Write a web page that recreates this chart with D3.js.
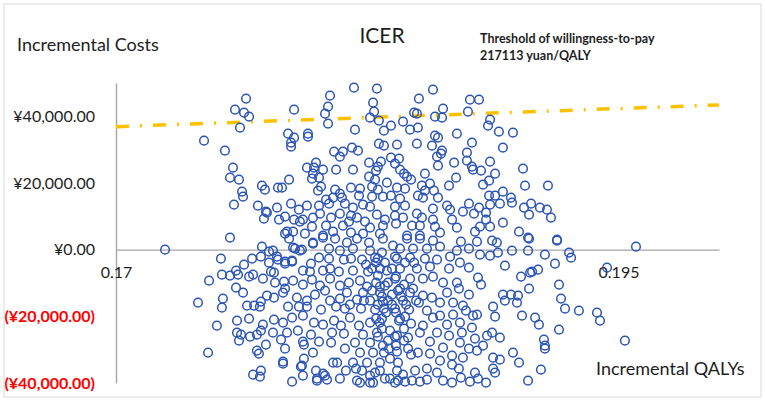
<!DOCTYPE html>
<html>
<head>
<meta charset="utf-8">
<script src="https://cdn.jsdelivr.net/npm/d3@7"></script>
<style>
  body { margin: 0; background: #fff; }
  text { font-family: Lato, "Open Sans", sans-serif; }
</style>
</head>
<body>
<div id="chart"></div>
<script>
const width = 765,
  height = 401,
  margin = { top: 83, bottom: 18, left: 116, right: 46 },
  radius = 4.3;

// incremental QALYs of each simulation
const qaly = [
  0.17647,0.17592,0.17637,0.17662,0.17617,0.17438,0.17542,0.17582,0.17567,0.17612,
  0.17627,0.17632,0.17726,0.17741,0.17587,0.17706,0.17746,0.17736,0.17567,
  0.18184,0.18298,0.18065,0.17886,0.18055,0.1804,0.18279,0.18284,0.18264,0.18308,
  0.18055,0.18189,0.18333,0.17856,0.17955,0.17955,0.17886,0.17871,0.17871,0.18308,
  0.18333,0.18174,0.18204,0.18085,0.18129,0.18114,0.18259,0.18318,0.17995,0.1795,
  0.17985,0.1803,0.18095,0.18179,0.18303,0.18294,0.1798,0.1801,0.17975,0.18259,
  0.17861,0.18289,0.18348,0.17806,0.17826,0.1802,0.18005,0.1809,0.18169,0.18214,
  0.18274,0.18303,0.18114,0.18124,0.18209,0.18274,0.18328,0.1808,0.18045,0.17871,
  0.17801,0.1791,0.1795,0.1801,0.1806,0.18139,0.18179,0.18229,0.18264,0.17841,
  0.17811,0.17886,0.1793,0.1798,0.18015,0.1807,0.18114,0.18169,0.18199,0.18298,
  0.18338,0.17975,0.18045,0.18129,0.18159,0.18239,0.18264,0.18328,0.17851,0.17881,
  0.1803,0.1808,0.18169,0.18229,0.18313,
  0.18577,0.18507,0.18761,0.18806,0.18627,0.18483,0.18497,0.18751,0.18587,0.18622,
  0.18428,0.18861,0.18851,0.18368,0.18463,0.18502,0.18905,0.18696,0.18587,0.18602,
  0.18398,0.18497,0.18572,0.18771,0.18925,0.18622,0.18617,0.18597,0.18746,0.18368,
  0.18408,0.18388,0.18682,0.18746,0.18602,0.18861,0.18771,0.18776,0.18413,0.18433,
  0.18537,0.18816,0.18886,0.18448,0.18468,0.18692,0.18856,0.18562,0.18657,0.18826,
  0.18398,0.18438,0.18522,0.18537,0.18582,0.18925,0.18856,0.18886,0.18368,0.18413,
  0.18502,0.18527,0.18602,0.18756,0.18806,0.18861,0.1891,0.18388,0.18438,0.18577,
  0.18647,0.18662,0.18726,0.18781,0.18841,0.18497,0.18388,0.18428,0.18522,0.18577,
  0.18672,0.18841,0.18925,0.18393,0.18473,0.18512,0.18587,0.18696,0.18811,0.18861,
  0.18448,0.18512,0.18612,0.18786,
  0.18975,0.19025,0.19035,0.19149,0.18965,0.1897,0.1903,0.19065,0.19055,0.19109,
  0.19144,0.19164,0.19005,0.1905,0.19194,
  0.17244,0.17726,0.17522,0.17677,0.17721,0.17637,0.17463,0.17527,0.17567,0.17597,
  0.17607,0.17662,0.17682,0.17731,0.17597,0.17632,0.17408,0.17532,0.17527,0.17652,
  0.17687,0.17716,0.17721,0.17751,0.17602,0.17662,0.17502,0.17731,0.17602,0.17622,
  0.17667,0.17612,0.17701,0.17721,0.17746,0.17701,0.17711,0.17458,0.17682,0.17721,0.17716,
  0.17751,0.17915,0.1794,0.17761,0.17801,0.17841,0.17876,0.17915,0.1798,0.17881,
  0.17841,0.17761,0.17786,0.17836,0.17881,0.17831,0.17925,0.1793,0.18,0.1804,
  0.18214,0.18264,
  0.17861,0.1798,0.1803,0.1809,0.18149,0.18199,0.18259,0.18328,0.17891,0.17925,
  0.17781,0.1806,0.18114,0.18179,0.18264,0.18323,0.17806,0.17841,0.17876,0.1797,
  0.1801,0.1806,0.18134,0.18169,0.18224,0.18289,0.1793,0.17965,0.1803,0.18065,
  0.18109,0.18179,0.18254,0.18313,0.17771,0.17791,0.17841,0.1793,0.17975,
  0.18015,0.18065,0.18114,0.18159,0.18214,0.18249,0.18294,0.18338,0.17831,0.1799,
  0.1804,0.18149,0.18229,0.18313,0.17786,0.179,0.1795,0.18065,0.18114,0.18164,
  0.18199,0.18264,0.18328,0.17856,0.1791,0.1795,0.1802,0.18095,0.18139,0.18219,
  0.18289,0.17786,0.17831,0.17876,0.1793,0.17985,0.1803,0.18085,0.18119,0.18164,
  0.18209,0.18264,0.18323,0.17781,0.17851,0.17905,0.1797,0.18075,0.18134,0.18229,
  0.18298,0.17821,0.1793,0.1801,0.1807,0.18139,0.18189,0.18264,0.18328,0.17841,
  0.17935,0.1798,0.18214,0.18279,0.17831,0.17935,0.1808,0.181,0.18179,0.18249,
  0.18313,0.1792,0.17995,0.1803,0.18144,0.18194,0.18224,0.18289,0.18,0.1805,
  0.18114,0.18199,0.18279,0.18338,
  0.18448,0.18512,0.18577,0.18716,0.18796,0.18871,0.18895,0.18378,0.18413,0.18478,
  0.18547,0.18612,0.18696,0.18756,0.18811,0.18861,0.189,0.18935,0.18398,0.18463,
  0.18537,0.18597,0.18662,0.18711,0.18756,0.18657,0.18562,0.18497,0.18413,0.18801,
  0.18816,0.18696,0.18627,0.18577,0.18527,0.18463,0.18388,0.18413,0.18478,0.18572,
  0.18647,0.18706,0.18756,0.18527,0.18428,0.18507,0.18612,0.18677,0.18726,0.18796,
  0.18776,0.18925,0.18935,0.18876,0.18886,0.18388,0.18458,0.18547,0.18612,0.18677,
  0.18741,0.18577,0.18408,0.18468,0.18527,0.18647,0.18711,0.18771,0.18512,0.18597,
  0.18657,0.18721,0.18786,0.18846,0.18871,0.1891,0.18398,0.18453,0.18562,0.18711,
  0.18826,0.18627,0.18756,0.18796,0.18398,0.18468,0.18562,0.18672,0.18726,0.18502,
  0.18876,0.1891,0.18612,0.18672,0.18547,0.18488,0.18398,0.18428,0.18597,0.18706,
  0.18786,0.18876,0.18886,0.18473,0.18547,0.18627,0.18672,0.18716,0.18403,
  0.19055,0.19194,0.1897,0.1905,0.19134,0.19254,0.19264,0.19184,0.19587,0.19443,
  0.191,0.1906,0.1907,0.19015,0.19204,0.19055,0.18965,0.19,0.18995,0.19214,
  0.19234,0.19303,0.19393,0.19408,0.1902,0.19085,0.19104,0.19204,0.19129,0.19134,
  0.19134,0.19532,0.18975,0.19005,0.19114,0.1905,
  0.18338,0.18373,0.18303,0.18353,0.18403,0.18323,0.18373,0.18343,0.18413,0.18313,
  0.18363,0.18433,0.18353,0.18393,0.18333,0.18294,0.18244,0.18274,0.18234,0.18388,
  0.18438,0.18463,0.18443,0.18333,0.18294,0.18363,0.18403,0.18313,0.18264,0.18363,
  0.18438,0.18388,0.18512,0.18761,0.18801,0.18841,0.17876,
  0.18303,0.18348,0.18393,0.18433,0.18313,0.18373,0.18418,0.18353,0.18303,0.18393,
  0.18438,0.18323,0.18388,0.18433,0.18303,0.18358,0.18453,0.18274,0.18483,0.18493
];

// incremental costs (yuan), same order as qaly
const cost = [
  45300,42000,41100,39900,36600,32700,29700,24600,21600,21000,
  17400,15900,19200,18000,13500,13200,11400,9300,3600,
  48600,48300,46200,42000,42900,40800,44100,41400,39600,38700,
  37800,36000,35700,34800,34800,33900,33600,32100,30900,31800,
  31200,30600,29700,29400,29400,27900,26100,26400,26100,24600,
  24600,24000,24000,24000,24900,23700,22800,21600,21300,21900,
  21000,21000,20100,18600,18600,18900,17700,18000,18600,18300,
  18900,18000,16800,15600,16200,15900,15900,15600,15000,13800,
  12600,12000,13200,13200,13800,13800,12600,13500,12900,9900,
  9000,9000,9000,9600,10800,9600,10800,10200,9600,10500,
  9000,6900,7200,7200,8400,8400,6600,7200,5400,5400,
  4200,5400,5100,4800,4800,
  48000,45300,45000,45000,42300,41100,40800,41400,39900,39600,
  38400,39000,37200,37200,36000,36600,35400,34800,34200,33600,
  31500,31800,31200,32100,30600,29700,28800,27900,29100,27600,
  27300,25800,26100,26700,25200,26400,24900,24000,24000,22800,
  22800,23700,22800,21900,21000,21600,20700,19800,19200,19500,
  18600,18300,19200,17700,17700,17400,16200,16200,16200,15300,
  16200,15600,15600,13800,12600,13500,13800,12900,13200,12300,
  13200,12000,11400,10800,11100,10800,10200,9600,9600,9000,
  9000,9000,8100,7800,7200,7200,6900,6600,6900,6900,
  4200,4200,5100,5400,
  35100,24300,19200,19200,15600,14100,12600,13800,10500,12600,
  12000,9600,5400,3600,3000,
  0,900,-2700,-2700,-2100,-4500,-9300,-7500,-7800,-6300,
  -7500,-8100,-7500,-8700,-11400,-12900,-15900,-14700,-17400,-16800,
  -16800,-17100,-15600,-13800,-21300,-20700,-22800,-22500,-24900,-25500,
  -26100,-27300,-25500,-24300,-28500,-30300,-31200,-30900,-37500,-36300,-38100,
  11100,8400,4800,-600,-2100,-3600,-3600,-300,1800,600,
  4800,-3900,-6900,-9600,-9300,-34200,-34800,-37800,-39300,-37800,
  -39900,-39900,
  3300,2100,3600,3300,2100,3300,2100,3300,300,0,
  -300,300,-300,300,-300,-900,-3000,-4200,-3300,-4200,
  -2400,-2700,-3000,-2700,-3000,-2400,-6300,-6600,-6300,-5700,
  -6600,-6300,-6600,-5700,-6600,-9900,-11700,-10500,-9000,
  -10800,-8700,-10800,-9900,-9300,-11100,-9900,-10800,-12900,-13500,
  -12300,-12900,-12900,-12900,-14400,-14400,-15300,-15300,-14700,-16500,
  -15000,-15300,-15600,-17100,-17100,-17100,-18000,-17100,-17700,-17700,
  -18000,-21000,-21900,-20400,-19800,-21900,-22500,-21300,-22800,-20400,
  -22800,-21900,-20700,-24900,-24900,-24300,-25500,-24900,-25200,-25500,
  -24900,-27000,-27600,-27600,-27900,-29700,-27900,-27900,-28800,-29700,
  -28500,-30900,-30900,-30900,-33600,-32700,-33900,-33900,-33900,-33900,
  -33900,-35100,-36300,-37200,-36300,-35700,-36300,-36900,-38700,-39000,
  -38700,-39300,-39900,-38700,
  3300,3300,2700,2400,2400,2700,2100,1200,300,300,
  300,900,-300,300,-1500,-1800,-900,-4800,-2700,-2400,
  -2700,-3000,-2100,-3900,-5400,-5700,-5100,-5700,-5700,-8400,
  -10500,-9900,-9900,-8100,-8700,-8700,-8700,-11700,-11700,-14400,
  -12900,-11700,-13500,-13800,-15300,-15900,-15900,-15900,-16800,-19500,
  -19800,-13500,-15300,-17100,-20100,-17700,-18000,-18300,-19800,-19500,
  -18300,-20400,-21300,-22200,-22800,-22500,-21900,-23400,-24900,-24900,
  -25800,-24900,-26700,-25800,-24900,-26400,-25800,-26400,-27600,-27900,
  -28800,-29400,-29700,-30300,-30600,-31500,-31200,-31800,-32400,-30900,
  -32400,-33000,-33300,-34500,-35700,-36300,-36300,-37500,-36900,-35700,
  -36900,-35700,-36900,-39300,-39000,-39300,-39900,-38400,-39300,
  3300,2700,-300,-300,-1500,-900,-2400,-4200,900,-5400,
  -6000,-6900,-6600,-8100,-10500,-11700,-13500,-13800,-15900,-14700,
  -17700,-18300,-18900,-21300,-19800,-20400,-22500,-24000,-27000,-28800,
  -29700,-27300,-30900,-33900,-36000,-39300,
  -3900,-5700,-7800,-9900,-12300,-14100,-16500,-18900,-20700,-21900,
  -24300,-23700,-27300,-28800,-30900,-3900,-4500,-12300,-15300,-2100,
  -3900,-12900,-16500,-17700,-20700,-32700,-33900,-36300,-37800,-38700,
  -39600,-39900,-39600,-39600,-38700,-39900,-39600,
  -2700,-6300,-8100,-10500,-11100,-13500,-14100,-15300,-16500,-18900,
  -20100,-23700,-26100,-27300,-26100,-29700,-29700,-5700,-3900,-15300
];

const xDomain = [0.17, 0.2];
const yDomain = [-40000, 50000];
const xTicks = [0.17, 0.195];
const yTicks = [40000, 20000, 0, -20000, -40000];
const wtp = 217113; // yuan per QALY

const points = qaly.map((q, i) => ({ q: q, c: cost[i] }));

const svg = d3.select("#chart")
  .append("svg")
  .attr("width", width)
  .attr("height", height);

svg.append("rect")
  .attr("x", 4).attr("y", 4)
  .attr("width", 757).attr("height", 393)
  .attr("fill", "white")
  .attr("stroke", "#d9d9d9");

const xScale = d3.scaleLinear()
  .domain(xDomain)
  .range([margin.left, width - margin.right]);

const yScale = d3.scaleLinear()
  .domain(yDomain)
  .range([height - margin.bottom, margin.top]);

const money = d3.format(",.2f");
const yFormat = d => d < 0 ? `(¥${money(-d)})` : `¥${money(d)}`;

const yAxis = svg.append("g")
  .attr("transform", `translate(${margin.left},0)`)
  .call(d3.axisLeft(yScale).tickValues(yTicks).tickFormat(yFormat)
    .tickSize(0).tickPadding(21));

const xAxis = svg.append("g")
  .attr("transform", `translate(0,${yScale(0)})`)
  .call(d3.axisBottom(xScale).tickValues(xTicks).tickFormat(d => String(d))
    .tickSize(0).tickPadding(17));

[xAxis, yAxis].forEach(g => {
  g.select(".domain").attr("stroke", "#a6a6a6").attr("stroke-width", 1.4);
  g.selectAll("text")
    .style("font-family", "Lato, 'Open Sans', sans-serif")
    .style("font-size", "16px")
    .attr("fill", "#1e1e1e");
});

yAxis.selectAll("text")
  .attr("fill", d => d < 0 ? "#ff0000" : "#1e1e1e")
  .style("font-weight", d => d < 0 ? 700 : 400);

// willingness-to-pay threshold line
const line = d3.line()
  .x(d => xScale(d))
  .y(d => yScale(d * wtp));

svg.append("path")
  .datum(xDomain)
  .attr("d", line)
  .attr("fill", "none")
  .attr("stroke", "#ffc000")
  .attr("stroke-width", 3.5)
  .attr("stroke-dasharray", "13,11,2,11");

svg.selectAll(".dot")
  .data(points)
  .join("circle")
  .attr("class", "dot")
  .attr("cx", d => xScale(d.q))
  .attr("cy", d => yScale(d.c))
  .attr("r", radius)
  .attr("fill", "none")
  .attr("stroke", "#2c55b6")
  .attr("stroke-width", 1.5);

svg.append("text")
  .attr("x", 382).attr("y", 43)
  .attr("text-anchor", "middle")
  .style("font-size", "21px")
  .attr("fill", "#1e1e1e")
  .text("ICER");

svg.append("text")
  .attr("x", 17).attr("y", 51)
  .style("font-size", "18px")
  .attr("fill", "#1e1e1e")
  .text("Incremental Costs");

svg.append("text")
  .attr("x", 596).attr("y", 375)
  .style("font-size", "18px")
  .attr("fill", "#1e1e1e")
  .text("Incremental QALYs");

const note = svg.append("text")
  .attr("x", 480).attr("y", 43)
  .style("font-size", "12.5px")
  .style("font-weight", 700)
  .attr("fill", "#1e1e1e");
note.append("tspan").attr("x", 480).text("Threshold of willingness-to-pay");
note.append("tspan").attr("x", 480).attr("dy", 17).text("217113 yuan/QALY");
</script>
</body>
</html>
